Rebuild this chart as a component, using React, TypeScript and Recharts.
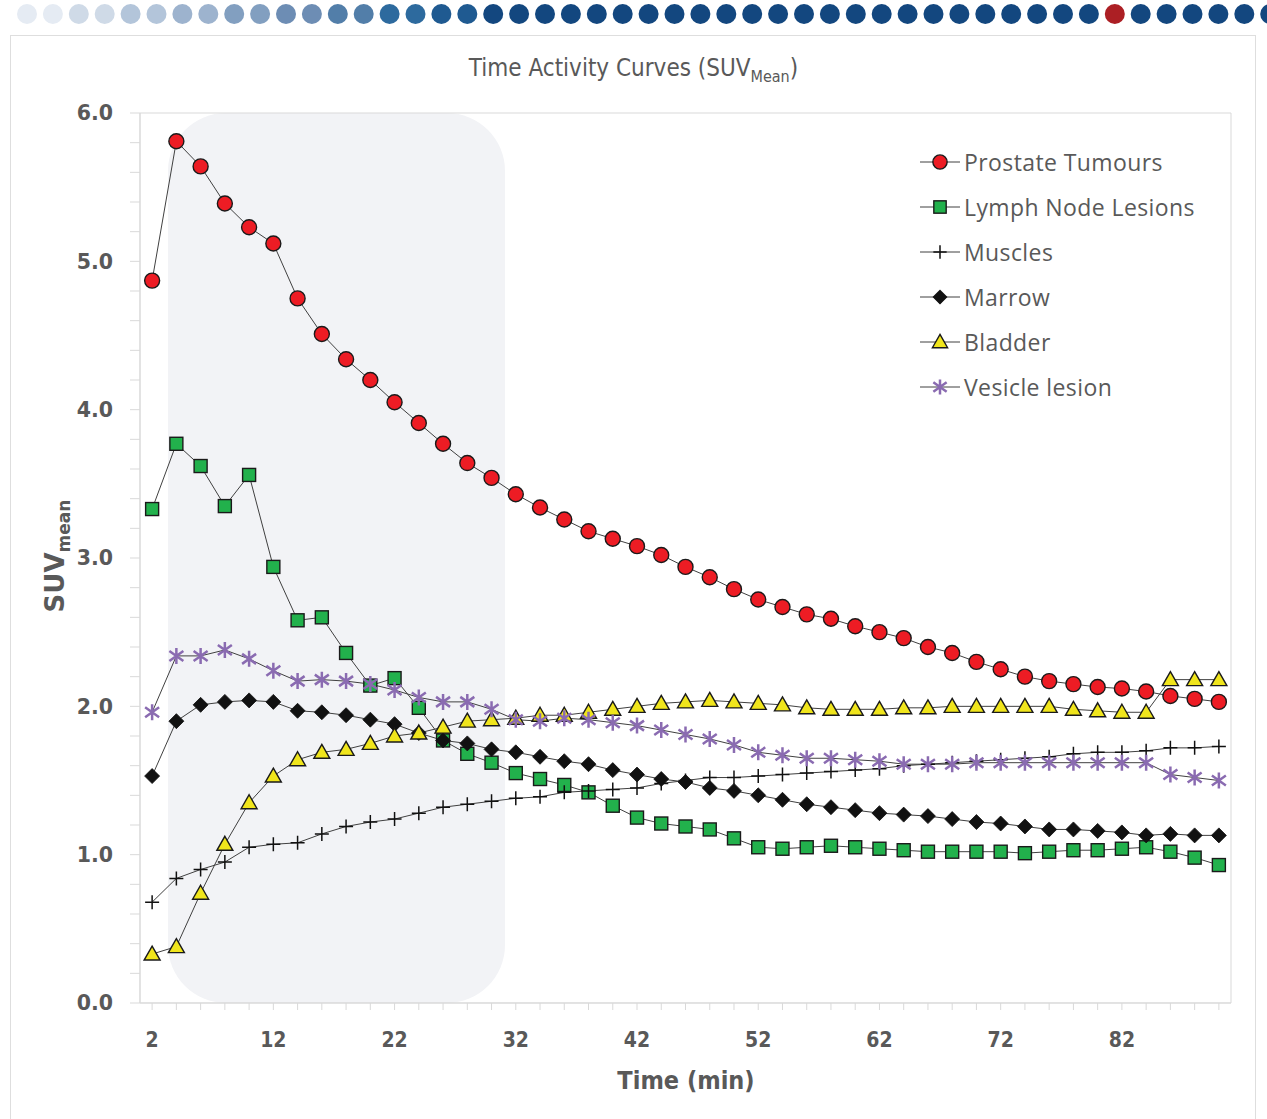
import React from 'react';
import { LineChart, Line, XAxis, YAxis, ReferenceArea, Legend } from 'recharts';

// time points (min)
const times = [2, 4, 6, 8, 10, 12, 14, 16, 18, 20, 22, 24, 26, 28, 30, 32, 34, 36, 38, 40, 42, 44, 46, 48, 50, 52, 54, 56, 58, 60, 62, 64, 66, 68, 70, 72, 74, 76, 78, 80, 82, 84, 86, 88, 90];

const prostateTumours = [4.87, 5.81, 5.64, 5.39, 5.23, 5.12, 4.75, 4.51, 4.34, 4.2, 4.05, 3.91, 3.77, 3.64, 3.54, 3.43, 3.34, 3.26, 3.18, 3.13, 3.08, 3.02, 2.94, 2.87, 2.79, 2.72, 2.67, 2.62, 2.59, 2.54, 2.5, 2.46, 2.4, 2.36, 2.3, 2.25, 2.2, 2.17, 2.15, 2.13, 2.12, 2.1, 2.07, 2.05, 2.03];
const lymphNodeLesions = [3.33, 3.77, 3.62, 3.35, 3.56, 2.94, 2.58, 2.6, 2.36, 2.14, 2.19, 1.99, 1.77, 1.68, 1.62, 1.55, 1.51, 1.47, 1.42, 1.33, 1.25, 1.21, 1.19, 1.17, 1.11, 1.05, 1.04, 1.05, 1.06, 1.05, 1.04, 1.03, 1.02, 1.02, 1.02, 1.02, 1.01, 1.02, 1.03, 1.03, 1.04, 1.05, 1.02, 0.98, 0.93];
const muscles = [0.68, 0.84, 0.9, 0.95, 1.05, 1.07, 1.08, 1.14, 1.19, 1.22, 1.24, 1.28, 1.32, 1.34, 1.36, 1.38, 1.39, 1.42, 1.43, 1.44, 1.45, 1.48, 1.5, 1.52, 1.52, 1.53, 1.54, 1.55, 1.56, 1.57, 1.58, 1.6, 1.61, 1.62, 1.63, 1.64, 1.65, 1.66, 1.68, 1.69, 1.69, 1.7, 1.72, 1.72, 1.73];
const marrow = [1.53, 1.9, 2.01, 2.03, 2.04, 2.03, 1.97, 1.96, 1.94, 1.91, 1.88, 1.82, 1.77, 1.75, 1.71, 1.69, 1.66, 1.63, 1.61, 1.57, 1.54, 1.51, 1.49, 1.45, 1.43, 1.4, 1.37, 1.34, 1.32, 1.3, 1.28, 1.27, 1.26, 1.24, 1.22, 1.21, 1.19, 1.17, 1.17, 1.16, 1.15, 1.13, 1.14, 1.13, 1.13];
const bladder = [0.33, 0.38, 0.74, 1.07, 1.35, 1.53, 1.64, 1.69, 1.71, 1.75, 1.8, 1.82, 1.86, 1.9, 1.91, 1.92, 1.94, 1.94, 1.96, 1.98, 2.0, 2.02, 2.03, 2.04, 2.03, 2.02, 2.01, 1.99, 1.98, 1.98, 1.98, 1.99, 1.99, 2.0, 2.0, 2.0, 2.0, 2.0, 1.98, 1.97, 1.96, 1.96, 2.18, 2.18, 2.18];
const vesicleLesion = [1.96, 2.34, 2.34, 2.38, 2.32, 2.24, 2.17, 2.18, 2.17, 2.15, 2.11, 2.06, 2.03, 2.03, 1.98, 1.91, 1.9, 1.92, 1.91, 1.89, 1.87, 1.84, 1.81, 1.78, 1.74, 1.69, 1.67, 1.65, 1.65, 1.64, 1.63, 1.61, 1.61, 1.61, 1.62, 1.62, 1.62, 1.62, 1.62, 1.62, 1.62, 1.62, 1.54, 1.52, 1.5];

const xLabelTicks = [2, 12, 22, 32, 42, 52, 62, 72, 82];
const yTicks = [0, 0.2, 0.4, 0.6, 0.8, 1, 1.2, 1.4, 1.6, 1.8, 2, 2.2, 2.4, 2.6, 2.8, 3, 3.2, 3.4, 3.6, 3.8, 4, 4.2, 4.4, 4.6, 4.8, 5, 5.2, 5.4, 5.6, 5.8, 6];
const yLabelTicks = [0, 1, 2, 3, 4, 5, 6];

// decorative progress dots on top of the page
const topDotColors = [
  '#e5ebf3', '#e5ebf3', '#cfdae7', '#cfdae7', '#b3c5da', '#b3c5da', '#9db3ce', '#9db3ce',
  '#829fc0', '#829fc0', '#6d8db4', '#6d8db4', '#527ea9', '#527ea9', '#2d6a9e', '#2d6a9e',
  '#1f5a91', '#1f5a91', '#13477f', '#13477f', '#13477f', '#13477f', '#13477f', '#13477f',
  '#13477f', '#13477f', '#13477f', '#13477f', '#13477f', '#13477f', '#13477f', '#13477f',
  '#13477f', '#13477f', '#13477f', '#13477f', '#13477f', '#13477f', '#13477f', '#13477f',
  '#13477f', '#13477f', '#ac1f24', '#13477f', '#13477f', '#13477f', '#13477f', '#13477f', '#13477f',
];

type MarkerKind = 'circle' | 'square' | 'plus' | 'diamond' | 'triangle' | 'star';

const series: { key: string; name: string; marker: MarkerKind; values: number[] }[] = [
  { key: 'prostate', name: 'Prostate Tumours', marker: 'circle', values: prostateTumours },
  { key: 'lymph', name: 'Lymph Node Lesions', marker: 'square', values: lymphNodeLesions },
  { key: 'muscles', name: 'Muscles', marker: 'plus', values: muscles },
  { key: 'marrow', name: 'Marrow', marker: 'diamond', values: marrow },
  { key: 'bladder', name: 'Bladder', marker: 'triangle', values: bladder },
  { key: 'vesicle', name: 'Vesicle lesion', marker: 'star', values: vesicleLesion },
];

const chartData = times.map((t, i) => {
  const row: Record<string, number> = { t };
  series.forEach(s => { row[s.key] = s.values[i]; });
  return row;
});

const TEXT = '#595959';
const AXIS = '#d9d9d9';

const renderMarker = (kind: MarkerKind, cx: number, cy: number, key: string, s = 1) => {
  if (cx == null || cy == null) return <g key={key} />;
  switch (kind) {
    case 'circle':
      return <circle key={key} cx={cx} cy={cy} r={7.5 * s} fill="#ed1c24" stroke="#1a1a1a" strokeWidth={1.4} />;
    case 'square':
      return <rect key={key} x={cx - 6.5 * s} y={cy - 6.5 * s} width={13 * s} height={13 * s} fill="#22b14c" stroke="#1a1a1a" strokeWidth={1.4} />;
    case 'plus':
      return <path key={key} d={`M${cx - 7 * s},${cy}H${cx + 7 * s}M${cx},${cy - 7 * s}V${cy + 7 * s}`} stroke="#111" strokeWidth={1.5} fill="none" />;
    case 'diamond':
      return <path key={key} d={`M${cx},${cy - 7.5 * s}L${cx + 7.5 * s},${cy}L${cx},${cy + 7.5 * s}L${cx - 7.5 * s},${cy}Z`} fill="#111" stroke="#111" strokeWidth={0.8} />;
    case 'triangle':
      return <path key={key} d={`M${cx},${cy - 8 * s}L${cx + 8 * s},${cy + 6 * s}L${cx - 8 * s},${cy + 6 * s}Z`} fill="#f0e51c" stroke="#1a1a1a" strokeWidth={1.4} />;
    case 'star':
      return (
        <path
          key={key}
          d={`M${cx},${cy - 8 * s}V${cy + 8 * s}M${cx - 7 * s},${cy - 5 * s}L${cx + 7 * s},${cy + 5 * s}M${cx - 7 * s},${cy + 5 * s}L${cx + 7 * s},${cy - 5 * s}`}
          stroke="#8a6bb1"
          strokeWidth={2.5}
          fill="none"
        />
      );
  }
};

const XTick = (props: any) => {
  const { x, payload } = props;
  if (!xLabelTicks.includes(payload.value)) return <g />;
  return (
    <text
      x={x}
      y={1047}
      textAnchor="middle"
      fill={TEXT}
      fontSize={21}
      fontWeight="bold"
      fontFamily="'DejaVu Sans Condensed', 'Liberation Sans Narrow', sans-serif"
      style={{ fontStretch: 'condensed' }}
    >
      {payload.value}
    </text>
  );
};

const YTick = (props: any) => {
  const { x, y, payload } = props;
  if (!yLabelTicks.includes(payload.value)) return <g />;
  return (
    <text x={x} y={y} dy="0.36em" textAnchor="end" fill={TEXT} fontSize={20.5} fontWeight="bold" fontFamily="'DejaVu Sans', sans-serif">
      {payload.value.toFixed(1)}
    </text>
  );
};

const RoundedShade = (props: any) => {
  const { x, y, width, height } = props;
  return <rect x={x} y={y} width={width} height={height} rx={58} ry={58} fill="#f2f3f6" />;
};

const renderLegend = () => (
  <div style={{ fontFamily: "'Open Sans', sans-serif", fontSize: 23, letterSpacing: 0.4, color: TEXT }}>
    {series.map(s => (
      <div key={s.key} style={{ display: 'flex', alignItems: 'center', height: 45 }}>
        <svg width={44} height={20} style={{ display: 'block' }}>
          <line x1={2} x2={42} y1={10} y2={10} stroke="#404040" strokeWidth={1} />
          {renderMarker(s.marker, 22, 10, 'm', 0.95)}
        </svg>
        <span style={{ marginLeft: 2, whiteSpace: 'nowrap' }}>{s.name}</span>
      </div>
    ))}
  </div>
);

export default function App() {
  return (
    <div style={{ position: 'absolute', left: 0, top: 0, width: 1267, height: 1119, overflow: 'hidden', background: '#fff' }}>
      <svg width={1267} height={30} style={{ position: 'absolute', left: 0, top: 0 }}>
        {topDotColors.map((c, i) => (
          <circle key={i} cx={27 + i * 25.9} cy={14} r={10} fill={c} />
        ))}
      </svg>
      <div style={{ position: 'absolute', left: 10, top: 35, width: 1244, height: 1120, border: '1px solid #dedede' }} />

      <div
        style={{
          position: 'absolute', left: 0, top: 54, width: 1267, textAlign: 'center',
          fontFamily: "'Liberation Sans Narrow', 'DejaVu Sans Condensed', sans-serif", fontSize: 24, color: TEXT, lineHeight: '28px',
        }}
      >
        Time Activity Curves (SUV<sub style={{ fontSize: 16 }}>Mean</sub>)
      </div>

      <div style={{ position: 'absolute', left: 0, top: 0 }}>
        <LineChart width={1267} height={1119} data={chartData} margin={{ top: 113, right: 36, bottom: 86, left: 80 }}>
          <ReferenceArea x1={3.31} x2={31.11} y1={0} y2={6} shape={<RoundedShade />} ifOverflow="visible" />
          <ReferenceArea x1={1} x2={91} y1={0} y2={6} fill="none" stroke={AXIS} strokeWidth={1} ifOverflow="visible" />
          <XAxis
            type="number"
            dataKey="t"
            domain={[1, 91]}
            ticks={times}
            interval={0}
            height={30}
            tickSize={7}
            tickMargin={2}
            axisLine={{ stroke: AXIS }}
            tickLine={{ stroke: AXIS }}
            tick={(p: any) => <XTick {...p} />}
          />
          <YAxis
            type="number"
            domain={[0, 6]}
            ticks={yTicks}
            interval={0}
            width={60}
            tickSize={10}
            tickMargin={17}
            axisLine={{ stroke: AXIS }}
            tickLine={{ stroke: AXIS }}
            tick={(p: any) => <YTick {...p} />}
          />
          <Legend
            layout="vertical"
            align="center"
            verticalAlign="middle"
            content={renderLegend}
            wrapperStyle={{ left: 918, top: 139, width: 320 }}
          />
          {series.map(s => (
            <Line
              key={s.key}
              type="linear"
              dataKey={s.key}
              name={s.name}
              stroke="#404040"
              strokeWidth={1}
              dot={(p: any) => renderMarker(s.marker, p.cx, p.cy, `${s.key}-${p.index}`)}
              activeDot={false}
              isAnimationActive={false}
            />
          ))}
        </LineChart>
      </div>

      <div
        style={{
          position: 'absolute', left: -45, top: 536, width: 200, height: 40, transform: 'rotate(-90deg)',
          textAlign: 'center', fontFamily: "'DejaVu Sans', sans-serif", fontWeight: 'bold', fontSize: 26, color: TEXT, lineHeight: '40px',
        }}
      >
        SUV<sub style={{ fontSize: 17 }}>mean</sub>
      </div>

      <div
        style={{
          position: 'absolute', left: 586, top: 1065, width: 200, textAlign: 'center',
          fontFamily: "'DejaVu Sans Condensed', 'Liberation Sans Narrow', sans-serif", fontStretch: 'condensed',
          fontWeight: 'bold', fontSize: 25, color: TEXT, lineHeight: '32px',
        }}
      >
        Time (min)
      </div>
    </div>
  );
}
